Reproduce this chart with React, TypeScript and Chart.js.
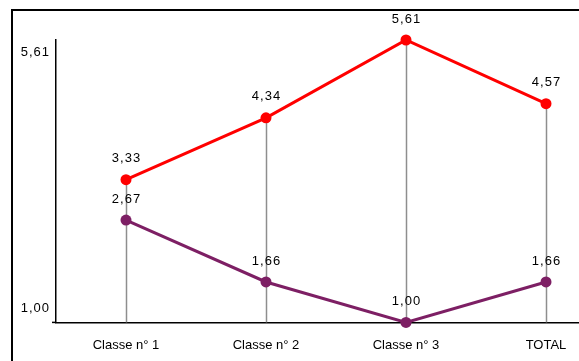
import React, { useEffect, useRef } from 'react';
import { Chart, registerables } from 'chart.js';

Chart.register(...registerables);

const categories = ['Classe n° 1', 'Classe n° 2', 'Classe n° 3', 'TOTAL'];
const redValues = [3.33, 4.34, 5.61, 4.57];
const purpleValues = [2.67, 1.66, 1.0, 1.66];
const yTickValues = [5.61, 1.0];
const yMin = 1.0;
const yMax = 5.61;

const RED = '#ff0000';
const PURPLE = '#7d1f64';
const FONT = '"Liberation Sans", Arial, sans-serif';

const fmt = (v: number) => v.toFixed(2).replace('.', ',');

const decorPlugin = {
  id: 'decor',
  beforeDatasetsDraw(chart: any) {
    const { ctx, chartArea } = chart;
    const metas = chart.data.datasets.map((_: any, i: number) => chart.getDatasetMeta(i));
    ctx.save();
    ctx.strokeStyle = '#8e8e8e';
    ctx.lineWidth = 1.5;
    categories.forEach((_, i) => {
      let top = Infinity;
      let x = 0;
      metas.forEach((m: any) => {
        const el = m.data[i];
        if (el && el.y < top) {
          top = el.y;
          x = el.x;
        }
      });
      ctx.beginPath();
      ctx.moveTo(Math.round(x) + 0.5, top);
      ctx.lineTo(Math.round(x) + 0.5, chartArea.bottom);
      ctx.stroke();
    });
    ctx.strokeStyle = '#000';
    ctx.lineWidth = 1.5;
    ctx.beginPath();
    ctx.moveTo(chartArea.left - 4, chartArea.bottom);
    ctx.lineTo(chartArea.left, chartArea.bottom);
    ctx.stroke();
    ctx.restore();
  },
  afterDatasetsDraw(chart: any) {
    const { ctx } = chart;
    ctx.save();
    ctx.font = `13px ${FONT}`;
    (ctx as any).letterSpacing = '1px';
    ctx.fillStyle = '#000000';
    ctx.textAlign = 'center';
    ctx.textBaseline = 'middle';
    chart.data.datasets.forEach((ds: any, di: number) => {
      const meta = chart.getDatasetMeta(di);
      meta.data.forEach((el: any, i: number) => {
        ctx.fillText(fmt(ds.data[i]), el.x + 0.5, el.y - 21);
      });
    });
    const yScale = chart.scales.y;
    ctx.textAlign = 'right';
    const mid = (yMin + yMax) / 2;
    yTickValues.forEach((v) => {
      const py = yScale.getPixelForValue(v);
      const y = v >= mid ? py + 12 : py - 14;
      ctx.fillText(fmt(v), chart.chartArea.left - 6, y);
    });
    ctx.restore();
  },
};

export default function App() {
  const canvasRef = useRef<HTMLCanvasElement | null>(null);

  useEffect(() => {
    if (!canvasRef.current) return;
    const chart = new Chart(canvasRef.current, {
      type: 'line',
      data: {
        labels: categories,
        datasets: [
          {
            data: redValues,
            borderColor: RED,
            backgroundColor: RED,
            pointBackgroundColor: RED,
            pointBorderColor: RED,
            pointRadius: 5.5,
            pointBorderWidth: 0,
            borderWidth: 3,
            tension: 0,
            fill: false,
            clip: false,
          },
          {
            data: purpleValues,
            borderColor: PURPLE,
            backgroundColor: PURPLE,
            pointBackgroundColor: PURPLE,
            pointBorderColor: PURPLE,
            pointRadius: 5.5,
            pointBorderWidth: 0,
            borderWidth: 3,
            tension: 0,
            fill: false,
            clip: false,
          },
        ],
      },
      options: {
        responsive: false,
        animation: false,
        layout: { padding: { left: 56, top: 40, right: 24, bottom: 8 } },
        plugins: { legend: { display: false }, tooltip: { enabled: false } },
        scales: {
          x: {
            type: 'category',
            offset: true,
            grid: { display: false, drawTicks: false },
            border: { display: true, color: '#000', width: 1.5 },
            ticks: {
              color: '#000',
              font: { family: FONT, size: 13 },
              padding: 15,
              maxRotation: 0,
              autoSkip: false,
            },
          },
          y: {
            min: yMin,
            max: yMax,
            grid: { display: false, drawTicks: false },
            border: { display: true, color: '#000', width: 1.5 },
            ticks: { display: false },
          },
        },
      },
      plugins: [decorPlugin],
    } as any);
    return () => chart.destroy();
  }, []);

  return (
    <div
      style={{
        position: 'fixed',
        left: 0,
        top: 0,
        width: 579,
        height: 361,
        overflow: 'hidden',
        background: '#fff',
      }}
    >
      <canvas
        ref={canvasRef}
        width={640}
        height={376}
        style={{ display: 'block', position: 'absolute', left: 0, top: 0 }}
      />
      <div
        style={{
          position: 'absolute',
          left: 11,
          top: 9,
          width: 700,
          height: 400,
          borderLeft: '2px solid #000',
          borderTop: '2px solid #000',
          pointerEvents: 'none',
        }}
      />
    </div>
  );
}
